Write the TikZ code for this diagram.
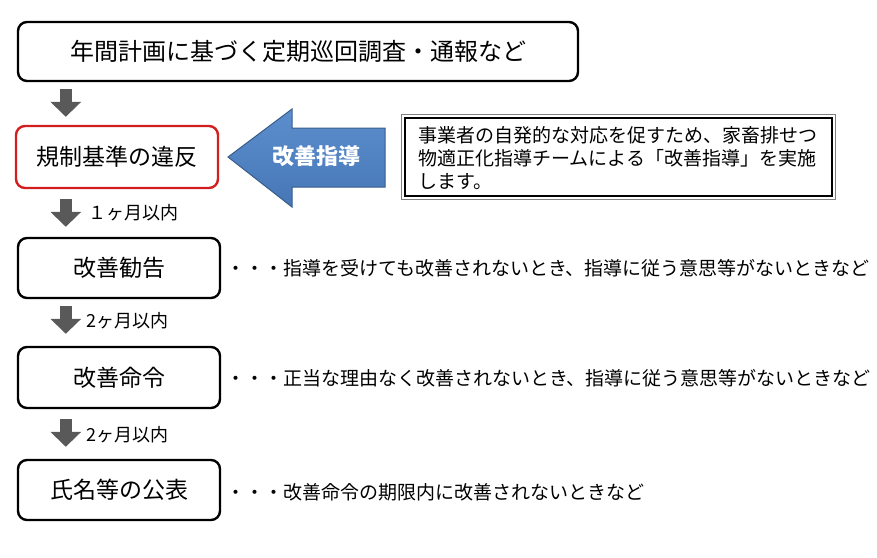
\documentclass[tikz,border=0pt]{standalone}
\usepackage{fontspec}
\setmainfont{Noto Sans CJK JP}
\usetikzlibrary{arrows.meta}
\definecolor{arrgray}{RGB}{89,89,89}
\definecolor{boxred}{RGB}{210,30,30}
\definecolor{blueA}{RGB}{92,142,206}
\definecolor{blueB}{RGB}{70,118,182}
\definecolor{blueE}{RGB}{56,93,138}
\begin{document}
\begin{tikzpicture}[x=1pt,y=-1pt,
  box/.style={draw=black, line width=2.4pt, rounded corners=9pt, fill=white, inner sep=0pt,
    minimum width=202pt, minimum height=60pt, font=\fontsize{23}{26}\selectfont},
  side/.style={anchor=west, inner sep=0pt, font=\fontsize{19}{22}\selectfont},
  lbl/.style={anchor=west, inner sep=0pt, font=\fontsize{18}{20}\selectfont},
  downarrow/.style={draw=arrgray, line width=12pt, line cap=butt,
    -{Triangle[width=30pt,length=15pt]}},
]
\useasboundingbox (0,0) rectangle (877,557);

\node[box, minimum width=560pt, minimum height=59pt, font=\fontsize{24}{27}\selectfont]
  (top) at (298,51.5) {年間計画に基づく定期巡回調査・通報など};
\node[box, draw=boxred, minimum height=62pt] (viol) at (117,157) {規制基準の違反};
\node[box] (rec) at (119,268) {改善勧告};
\node[box, minimum height=61pt] (ord) at (119,377.5) {改善命令};
\node[box] (pub) at (119,490) {氏名等の公表};

% blue arrow
\path[top color=blueA, bottom color=blueB, draw=blueE, line width=1pt]
  (228,157) -- (292,109) -- (292,128) -- (385,128) -- (385,187) -- (292,187) -- (292,207) -- cycle;
\node[text=white, font=\fontsize{22}{24}\selectfont\bfseries] (guid) at (316,156) {改善指導};

% info box
\node[draw=black, line width=2pt, fill=white, minimum width=427pt, minimum height=78pt,
  inner sep=0pt] (info) at (618.5,157) {};
\draw[gray, line width=0.8pt] ([shift={(-2.5pt,2.5pt)}]info.north west) rectangle ([shift={(2.5pt,-2.5pt)}]info.south east);
\node[anchor=north west, align=left, inner sep=0pt, font=\fontsize{19}{23}\selectfont]
  (infot) at (418,126) {事業者の自発的な対応を促すため、家畜排せつ\\物適正化指導チームによる「改善指導」を実施\\します。};

% gray arrows
\draw[downarrow] ([shift={(49pt,-7pt)}]top.south west) -- ([shift={(51pt,8pt)}]viol.north west);
\draw[downarrow] ([shift={(51pt,-10pt)}]viol.south west) -- ([shift={(49pt,10pt)}]rec.north west);
\draw[downarrow] ([shift={(49pt,-7pt)}]rec.south west) -- ([shift={(49pt,12pt)}]ord.north west);
\draw[downarrow] ([shift={(49pt,-10pt)}]ord.south west) -- ([shift={(49pt,12pt)}]pub.north west);

\node[lbl] (l1) at (88,213) {１ヶ月以内};
\node[lbl] (l2) at (86,321) {2ヶ月以内};
\node[lbl] (l3) at (86,435) {2ヶ月以内};

\node[side] (s1) at (226,268) {・・・指導を受けても改善されないとき、指導に従う意思等がないときなど};
\node[side] (s2) at (226,378) {・・・正当な理由なく改善されないとき、指導に従う意思等がないときなど};
\node[side] (s3) at (226,492) {・・・改善命令の期限内に改善されないときなど};
\end{tikzpicture}
\end{document}
